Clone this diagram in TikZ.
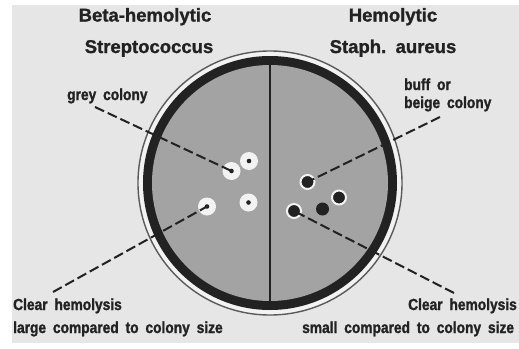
\documentclass[tikz,border=0pt]{standalone}
\usepackage{fontspec}
\setmainfont{Liberation Sans}
\newfontfamily\titlefont{Liberation Sans}[WordSpace=1.5,FakeBold=1.2]
\newfontfamily\labelfont{Liberation Sans}[FakeStretch=0.86,WordSpace=1.8,FakeBold=1.4]
\definecolor{paper}{HTML}{E6E6E6}
\definecolor{agar}{HTML}{A3A3A3}
\definecolor{ink}{HTML}{222222}
\definecolor{halo}{HTML}{F2F2F2}
\definecolor{rim}{HTML}{5A5A5A}
\tikzset{
  title/.style={font=\titlefont\bfseries\fontsize{18.5}{20}\selectfont, text=ink, anchor=base, inner sep=0pt},
  label/.style={font=\labelfont\bfseries\fontsize{16}{18}\selectfont, text=ink, anchor=base west, inner sep=0pt},
  strepcol/.style={circle, fill=halo, minimum size=18pt, inner sep=0pt,
    path picture={\fill[ink] (path picture bounding box.center) circle (2.3pt);}},
  staphcol/.style={circle, fill=ink, draw=halo, line width=2pt, minimum size=14pt, inner sep=0pt},
  barecol/.style={circle, fill=ink, minimum size=13pt, inner sep=0pt},
  leader/.style={draw=ink, line width=2pt, dash pattern=on 10pt off 4pt},
}
\begin{document}
\begin{tikzpicture}[x=1pt,y=-1pt]
  % page and paper
  \useasboundingbox (0,0) rectangle (519,348);
  \fill[white] (0,0) rectangle (519,348);
  \fill[paper] (12,5) rectangle (519,343);

  % culture plate: outer rim, thick wall, agar, divider
  \coordinate (plate) at (270,183);
  \fill[halo] (plate) circle (132pt);
  \draw[rim, line width=1.4pt] (plate) circle (132pt);
  \fill[ink] (plate) circle (127pt);
  \fill[agar] (plate) circle (118pt);
  \draw[ink, line width=2pt] (270,61) -- (270,305);

  % headings
  \node[title] (strepA) at (145,21.5) {Beta-hemolytic};
  \node[title] (strepB) at (149,53) {Streptococcus};
  \node[title] (staphA) at (393,21.5) {Hemolytic};
  \node[title] (staphB) at (393,53) {Staph. aureus};

  % labels
  \node[label] (grey) at (67,100) {grey colony};
  \node[label] (buff) at (404,90) {buff or};
  \node[label] (beige) at (404,108) {beige colony};
  \node[label] (clearL) at (13,310) {Clear hemolysis};
  \node[label] (largeL) at (13,333) {large compared to colony size};
  \node[label] (clearR) at (408,310) {Clear hemolysis};
  \node[label] (smallR) at (302,333) {small compared to colony size};

  % streptococcus colonies with wide clear zones
  \node[strepcol] (s1) at (231.5,171) {};
  \node[strepcol] (s2) at (249,161) {};
  \node[strepcol] (s3) at (207,206.5) {};
  \node[strepcol] (s4) at (248.5,202.5) {};

  % staphylococcus colonies with narrow clear zones
  \node[staphcol] (a1) at (307.5,182) {};
  \node[staphcol] (a2) at (339,197.5) {};
  \node[barecol] (a3) at (322.5,209) {};
  \node[staphcol] (a4) at (294,211) {};

  % leader line ends
  \coordinate (greyEnd) at (95,107);
  \coordinate (clearLEnd) at (53,292);
  \coordinate (beigeEnd) at (440,117);
  \coordinate (clearREnd) at (454,293);

  \draw[leader] (greyEnd) -- (s1.center);
  \draw[leader] (clearLEnd) -- (s3.center);
  \draw[leader] (beigeEnd) -- (a1.center);
  \draw[leader] (clearREnd) -- (a4.center);
\end{tikzpicture}
\end{document}
